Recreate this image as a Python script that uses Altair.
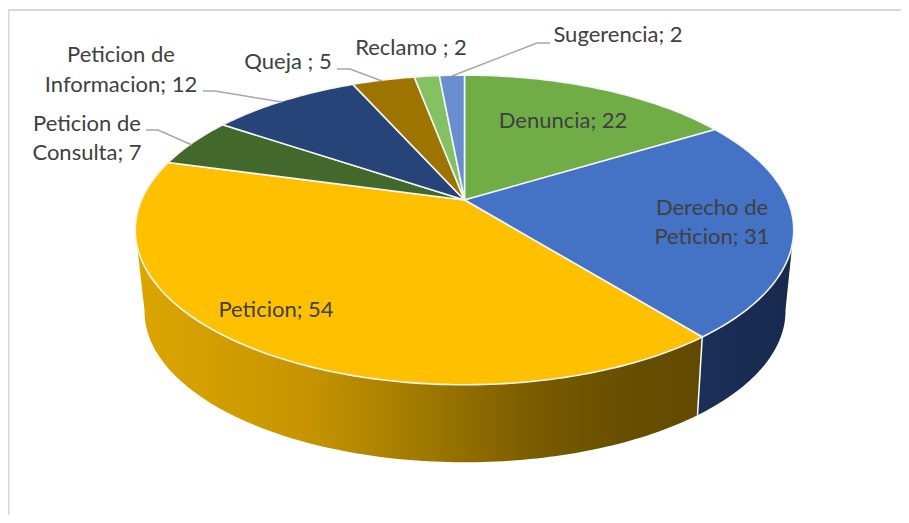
import math
import altair as alt
import pandas as pd

# ---- chart values ----
categories = ["Denuncia", "Derecho de Peticion", "Peticion", "Peticion de Consulta",
              "Peticion de Informacion", "Queja", "Reclamo", "Sugerencia"]
values = [22, 31, 54, 7, 12, 5, 2, 2]
colors = ["#70AD47", "#4472C4", "#FFC000", "#43682B", "#264478", "#9E7400", "#84C163", "#698ED0"]

# ---- layout ----
W, H = 893, 507
OX, OY = 8, 8
TOP = dict(cx=464.5, cy=200, a=323, b=149, k=0.1935)
BASE = dict(cx=465, cy=281, a=314, b=145, k=0.2)
FONT = "Lato"
FS = 22
TEXT = "#404040"
LEAD = "#A6A6A6"

total = sum(values)
edges = [0]
for v in values:
    edges.append(edges[-1] + v)
deg = [e / total * 360 for e in edges]


def project(theta, p):
    t = math.radians(theta)
    w = 1 + p["k"] * math.cos(t)
    return (p["cx"] + p["a"] * math.sin(t) / w - OX,
            p["cy"] - p["b"] * math.cos(t) / w - OY)


def arc(a0, a1, p, step=1.0):
    n = max(2, int(abs(a1 - a0) / step) + 1)
    return [project(a0 + (a1 - a0) * i / (n - 1), p) for i in range(n)]


xs = alt.X("x:Q", scale=alt.Scale(domain=[0, W], range=[0, W]), axis=None)
ys = alt.Y("y:Q", scale=alt.Scale(domain=[0, H], range=[0, H]), axis=None)


def poly(points, fill, stroke=None, sw=0):
    df = pd.DataFrame([{"x": x, "y": y, "o": i} for i, (x, y) in enumerate(points + points[:1])])
    kw = dict(fill=fill, strokeWidth=sw, stroke=stroke if stroke else "transparent")
    return alt.Chart(df).mark_line(**kw).encode(x=xs, y=ys, order="o:Q")


def polyline(points, color, sw):
    df = pd.DataFrame([{"x": x, "y": y, "o": i} for i, (x, y) in enumerate(points)])
    return alt.Chart(df).mark_line(color=color, strokeWidth=sw).encode(x=xs, y=ys, order="o:Q")


grad_pet = alt.Gradient(
    gradient="linear", x1=0, y1=0, x2=1, y2=0,
    stops=[alt.GradientStop(offset=0, color="#DCA600"),
           alt.GradientStop(offset=0.3, color="#C69500"),
           alt.GradientStop(offset=0.5, color="#A17A00"),
           alt.GradientStop(offset=0.7, color="#7A5C00"),
           alt.GradientStop(offset=0.85, color="#685000"),
           alt.GradientStop(offset=1, color="#614900")])
grad_nav = alt.Gradient(
    gradient="linear", x1=0, y1=0, x2=1, y2=0,
    stops=[alt.GradientStop(offset=0, color="#1B3059"),
           alt.GradientStop(offset=1, color="#17294D")])

layers = []

# side walls (the part of the rim facing the viewer)
sil_r, sil_l = 101.2, 258.8
nav = arc(sil_r, deg[2], TOP) + arc(deg[2], sil_r, BASE)
pet = arc(deg[2], sil_l, TOP) + arc(sil_l, deg[2], BASE)
layers.append(poly(nav, grad_nav))
layers.append(poly(pet, grad_pet))
layers.append(polyline([project(deg[2], TOP), project(deg[2], BASE)], "#FFFFFF", 1.5))

# top faces
apex = (TOP["cx"] - OX, TOP["cy"] - OY)
for i, c in enumerate(colors):
    pts = [apex] + arc(deg[i], deg[i + 1], TOP)
    layers.append(poly(pts, c, "#F4F4F4", 1.6))

# leader lines
for seg in [
    [(146, 130), (158, 130), (192, 145)],
    [(203, 91), (215, 91), (282, 102)],
    [(337, 69), (350, 69), (382, 81)],
    [(550, 43), (537, 43), (452, 76)],
]:
    layers.append(polyline([(x - OX, y - OY) for x, y in seg], LEAD, 1.5))

# chart border (top and left only)
layers.append(polyline([(0.5, H), (0.5, 2), (W, 2)], "#D9D9D9", 2))

# data labels
labels = [
    ("Peticion de", 121, 55), ("Informacion; 12", 121, 85),
    ("Queja ; 5", 288, 62), ("Reclamo ; 2", 411, 48), ("Sugerencia; 2", 618, 35),
    ("Peticion de", 87, 124), ("Consulta; 7", 87, 153),
    ("Denuncia; 22", 563, 121), ("Derecho de", 712, 208), ("Peticion; 31", 712, 237),
    ("Peticion; 54", 276, 310),
]
ldf = pd.DataFrame([{"t": t, "x": x - OX, "y": y - OY} for t, x, y in labels])
layers.append(alt.Chart(ldf).mark_text(font=FONT, fontSize=FS, color=TEXT, align="center", baseline="middle")
              .encode(x=xs, y=ys, text="t:N"))

chart = alt.layer(*layers).properties(
    width=W, height=H, padding=0, autosize=alt.AutoSizeParams(type="none")
).configure_view(strokeWidth=0)

chart.save("out.html", embed_options={"renderer": "svg", "actions": False})
